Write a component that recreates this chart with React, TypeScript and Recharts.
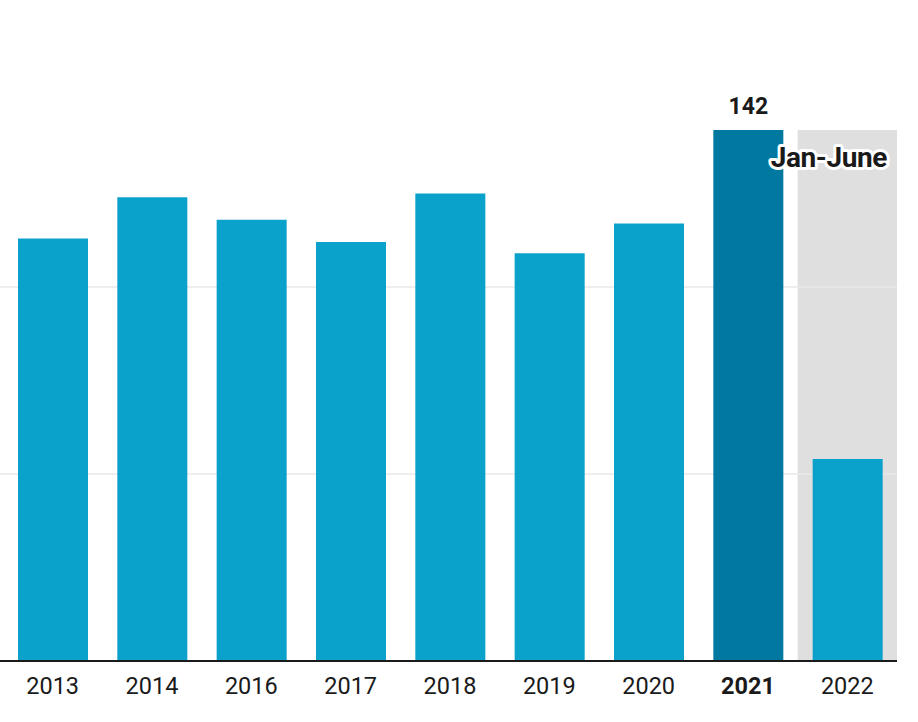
import React from 'react';
import {
  BarChart,
  Bar,
  Cell,
  XAxis,
  YAxis,
  CartesianGrid,
  ReferenceArea,
  LabelList,
} from 'recharts';

const years = ['2013', '2014', '2016', '2017', '2018', '2019', '2020', '2021', '2022'];
const counts = [113, 124, 118, 112, 125, 109, 117, 142, 54];
const gridTicks = [0, 50, 100];
const highlightYear = '2021';
const partialYear = '2022';
const partialNote = 'Jan-June';

const data = years.map((year, i) => ({ year, count: counts[i] }));

const BAR = '#0aa1cb';
const BAR_DARK = '#00789f';
const TEXT = '#1a1a1a';
const peak = counts[years.indexOf(highlightYear)];

const YearTick = (props: any) => {
  const { x, y, payload } = props;
  const bold = payload.value === highlightYear;
  return (
    <text
      x={x}
      y={y}
      dy={25}
      textAnchor="middle"
      fill={TEXT}
      fontSize={23.5}
      fontWeight={bold ? 700 : 400}
      fontFamily="Roboto"
    >
      {payload.value}
    </text>
  );
};

const ValueLabel = (props: any) => {
  const { x, y, width, index, value } = props;
  if (years[index] !== highlightYear) return null;
  return (
    <text
      x={x + width / 2}
      y={y - 16}
      textAnchor="middle"
      fill={TEXT}
      fontSize={23}
      fontWeight={700}
      fontFamily="Roboto"
    >
      {value}
    </text>
  );
};

const NoteLabel = (props: any) => {
  const { viewBox } = props;
  return (
    <text
      x={viewBox.x + viewBox.width - 10}
      y={viewBox.y + 37}
      textAnchor="end"
      fill={TEXT}
      stroke="#ffffff"
      strokeWidth={6}
      strokeLinejoin="round"
      paintOrder="stroke"
      fontSize={28}
      fontWeight={700}
      fontFamily="Roboto"
      letterSpacing={-0.4}
    >
      {partialNote}
    </text>
  );
};

export default function App() {
  return (
    <div style={{ position: 'absolute', left: 0, top: 0, fontFamily: 'Roboto' }}>
      <BarChart
        width={918}
        height={722}
        data={data}
        margin={{ top: 100, right: 21, left: 0, bottom: 0 }}
      >
        <ReferenceArea
          x1={partialYear}
          x2={partialYear}
          y1={0}
          y2={peak}
          fill="#dfdfdf"
          fillOpacity={1}
          stroke="none"
          ifOverflow="visible"
          zIndex={-200}
        />
        <CartesianGrid
          vertical={false}
          stroke="#e9e9e9"
          strokeWidth={1.5}
          horizontalValues={gridTicks}
        />
        <XAxis
          dataKey="year"
          height={61}
          padding={{ left: 3, right: 0 }}
          axisLine={{ stroke: TEXT, strokeWidth: 2 }}
          tickLine={false}
          tick={<YearTick />}
          interval={0}
        />
        <YAxis hide domain={[0, 150]} ticks={gridTicks} />
        <Bar dataKey="count" barSize={70} isAnimationActive={false}>
          {data.map((d) => (
            <Cell key={d.year} fill={d.year === highlightYear ? BAR_DARK : BAR} />
          ))}
          <LabelList dataKey="count" content={<ValueLabel />} />
        </Bar>
        <ReferenceArea
          x1={partialYear}
          x2={partialYear}
          y1={0}
          y2={peak}
          fill="none"
          stroke="none"
          ifOverflow="visible"
          zIndex={2000}
          label={<NoteLabel />}
        />
      </BarChart>
    </div>
  );
}
